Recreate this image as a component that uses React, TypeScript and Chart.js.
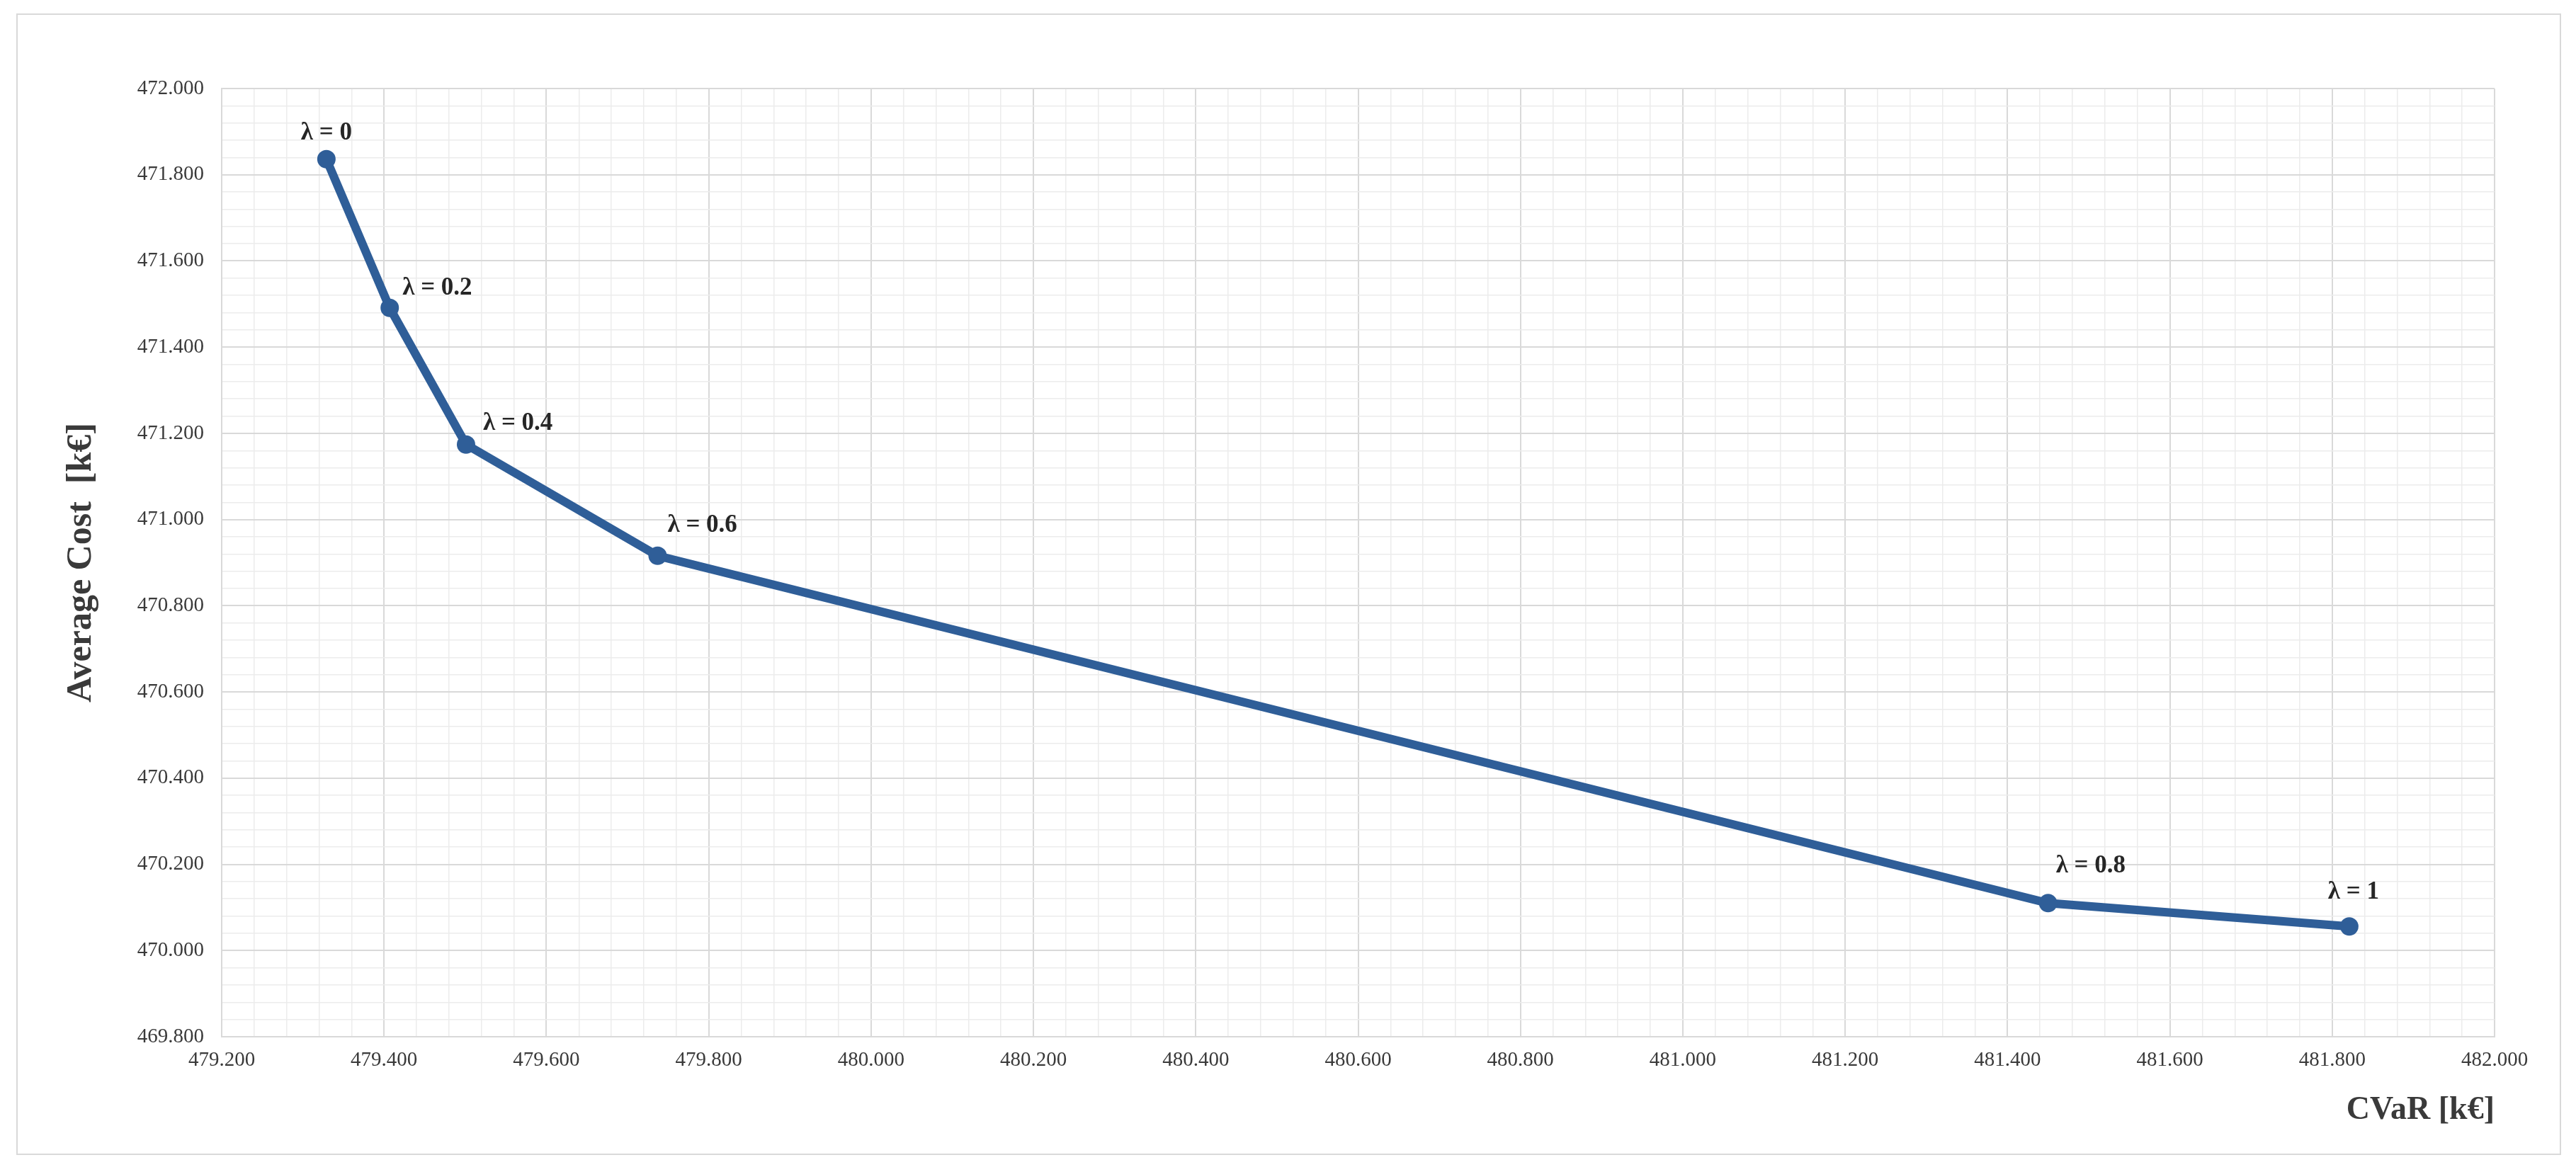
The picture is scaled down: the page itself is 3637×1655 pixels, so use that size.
import React, { useEffect, useRef } from 'react';
import { Chart, registerables } from 'chart.js';

Chart.register(...registerables);

// ---- data ----
const lambdaLabels = ['λ = 0', 'λ = 0.2', 'λ = 0.4', 'λ = 0.6', 'λ = 0.8', 'λ = 1'];
const cvarValues = [479.329, 479.407, 479.501, 479.737, 481.45, 481.821];
const avgCostValues = [471.836, 471.491, 471.174, 470.916, 470.11, 470.056];

const xMajorTicks = [
  479.2, 479.4, 479.6, 479.8, 480.0, 480.2, 480.4, 480.6, 480.8, 481.0, 481.2, 481.4, 481.6, 481.8, 482.0,
];
const yMajorTicks = [469.8, 470.0, 470.2, 470.4, 470.6, 470.8, 471.0, 471.2, 471.4, 471.6, 471.8, 472.0];
const MINOR_DIVISIONS = 5;

const xTitle = 'CVaR [k€]';
const yTitle = 'Average Cost  [k€]';

// label placement relative to each point (style, not data)
const labelPlacement = [
  { align: 'center', dx: 0, dy: -37 },
  { align: 'left', dx: 18, dy: -28 },
  { align: 'left', dx: 24, dy: -30 },
  { align: 'left', dx: 14, dy: -43 },
  { align: 'left', dx: 11, dy: -52 },
  { align: 'center', dx: 6, dy: -48 },
];

function withMinor(major: number[]) {
  const out: any[] = [];
  for (let i = 0; i < major.length - 1; i++) {
    const step = (major[i + 1] - major[i]) / MINOR_DIVISIONS;
    for (let k = 0; k < MINOR_DIVISIONS; k++) {
      out.push({ value: major[i] + k * step, isMajor: k === 0 });
    }
  }
  out.push({ value: major[major.length - 1], isMajor: true });
  return out;
}

const LINE_COLOR = '#2F5E98';
const TEXT_COLOR = '#3a3a3a';
const FONT = '"Liberation Serif", "Times New Roman", serif';

const lambdaLabelPlugin = {
  id: 'lambdaLabels',
  afterDatasetsDraw(chart: any, _args: any, opts: any) {
    const meta = chart.getDatasetMeta(0);
    const ctx = chart.ctx;
    ctx.save();
    ctx.font = `bold 35px ${FONT}`;
    ctx.fillStyle = '#262626';
    ctx.textBaseline = 'middle';
    meta.data.forEach((pt: any, i: number) => {
      const p = (opts.placement || [])[i] || { align: 'center', dx: 0, dy: -40 };
      ctx.textAlign = p.align;
      ctx.fillText(lambdaLabels[i], pt.x + p.dx, pt.y + p.dy);
    });
    ctx.restore();
  },
};

const gridColor = (ctx: any) => (ctx.tick && ctx.tick.isMajor ? '#d9d9d9' : '#ececec');
const gridWidth = (ctx: any) => (ctx.tick && ctx.tick.isMajor ? 2 : 1.5);

export default function App() {
  const canvasRef = useRef<HTMLCanvasElement | null>(null);

  useEffect(() => {
    const canvas = canvasRef.current;
    if (!canvas) return;
    const chart = new Chart(canvas, {
      type: 'scatter',
      data: {
        datasets: [
          {
            label: 'Frontier',
            data: cvarValues.map((x, i) => ({ x, y: avgCostValues[i] })),
            showLine: true,
            borderColor: LINE_COLOR,
            backgroundColor: LINE_COLOR,
            borderWidth: 12,
            pointRadius: 13,
            pointBorderWidth: 0,
            pointBackgroundColor: LINE_COLOR,
            tension: 0,
            clip: false as any,
          },
        ],
      },
      options: {
        responsive: false,
        animation: false,
        devicePixelRatio: 1,
        layout: { padding: { left: 0, right: 115, top: 125, bottom: 59 } },
        plugins: {
          legend: { display: false },
          tooltip: { enabled: false },
          lambdaLabels: { placement: labelPlacement },
        } as any,
        scales: {
          x: {
            type: 'linear',
            min: xMajorTicks[0],
            max: xMajorTicks[xMajorTicks.length - 1],
            afterBuildTicks: (scale: any) => {
              scale.ticks = withMinor(xMajorTicks);
            },
            afterFit: (scale: any) => {
              scale.height = 132;
            },
            grid: { color: gridColor, lineWidth: gridWidth, drawTicks: false },
            border: { color: '#d9d9d9', width: 2 },
            ticks: {
              autoSkip: false,
              maxRotation: 0,
              padding: 16,
              color: TEXT_COLOR,
              font: { family: FONT, size: 29 },
              callback: (value: any, index: number, ticks: any[]) =>
                ticks[index] && ticks[index].isMajor ? Number(value).toFixed(3) : '',
            },
            title: {
              display: true,
              text: xTitle,
              align: 'end',
              color: TEXT_COLOR,
              font: { family: FONT, size: 46, weight: 'bold' },
              padding: { top: 0, bottom: 0 },
            },
          },
          y: {
            type: 'linear',
            min: yMajorTicks[0],
            max: yMajorTicks[yMajorTicks.length - 1],
            afterBuildTicks: (scale: any) => {
              scale.ticks = withMinor(yMajorTicks);
            },
            afterFit: (scale: any) => {
              scale.width = 313;
            },
            grid: { color: gridColor, lineWidth: gridWidth, drawTicks: false },
            border: { color: '#d9d9d9', width: 2 },
            ticks: {
              autoSkip: false,
              padding: 25,
              color: TEXT_COLOR,
              font: { family: FONT, size: 29 },
              callback: (value: any, index: number, ticks: any[]) =>
                ticks[index] && ticks[index].isMajor ? Number(value).toFixed(3) : '',
            },
            title: {
              display: true,
              text: yTitle,
              color: TEXT_COLOR,
              font: { family: FONT, size: 50, weight: 'bold' },
              padding: { top: 85, bottom: 0 },
            },
          },
        },
      } as any,
      plugins: [lambdaLabelPlugin],
    });
    return () => chart.destroy();
  }, []);

  return (
    <div
      style={{
        position: 'absolute',
        left: 0,
        top: 0,
        width: 3637,
        height: 1655,
        background: '#ffffff',
        overflow: 'hidden',
      }}
    >
      <div
        style={{
          position: 'absolute',
          left: 23,
          top: 19,
          width: 3589,
          height: 1608,
          border: '2px solid #d9d9d9',
        }}
      />
      <canvas
        ref={canvasRef}
        width={3637}
        height={1655}
        style={{ position: 'absolute', left: 0, top: 0, width: 3637, height: 1655 }}
      />
    </div>
  );
}
